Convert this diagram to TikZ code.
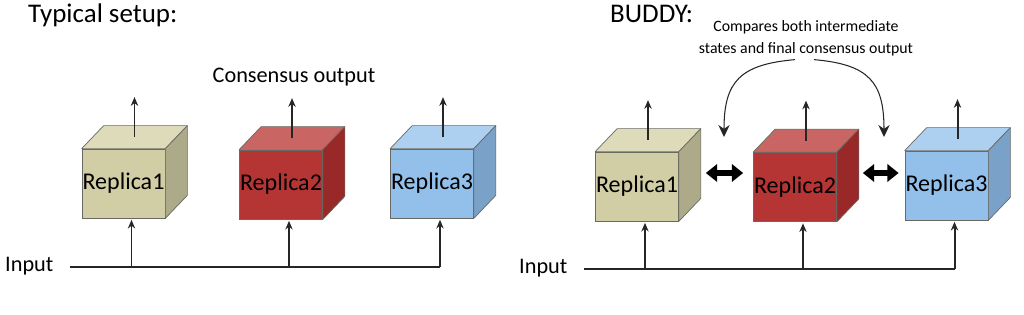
\documentclass[tikz,border=0pt]{standalone}
\usepackage{fontspec}
\setmainfont{Carlito}
\usetikzlibrary{calc, arrows.meta}
\definecolor{edgegray} {RGB}{105,105,100}
\definecolor{tanfront} {RGB}{209,205,165}
\definecolor{tantop}   {RGB}{222,219,187}
\definecolor{tanside}  {RGB}{172,170,136}
\definecolor{redfront} {RGB}{181,53,52}
\definecolor{redtop}   {RGB}{201,102,100}
\definecolor{redside}  {RGB}{152,41,40}
\definecolor{bluefront}{RGB}{147,192,235}
\definecolor{bluetop}  {RGB}{173,208,240}
\definecolor{blueside} {RGB}{122,162,201}
\newcommand\bigfont{\fontsize{19}{23}\selectfont}
% one replica: front face as node, top and side faces hung on its corners
\newcommand\replica[4]{%
  \node[replicabox, fill=#3front] (#1) at (#2) {#4};
  \path[cubeedge, fill=#3top] (#1.north west) -- ++(22,23)
    -- ($(#1.north east)+(22,23)$) -- (#1.north east) -- cycle;
  \path[cubeedge, fill=#3side] (#1.north east) -- ++(22,23)
    -- ($(#1.south east)+(22,23)$) -- (#1.south east) -- cycle;
  \coordinate (#1-top) at ($(#1.north)+(11,11.5)$);
  \coordinate (#1-out) at ($(#1-top)+(0,40)$);
  \coordinate (#1-in) at ($(#1.south)+(8,-1.5)$);}
\tikzset{
  replicabox/.style={draw=edgegray, line width=0.6pt, minimum width=24.9mm,
    minimum height=20.7mm, inner sep=0pt, font=\fontsize{20.5}{24}\selectfont},
  cubeedge/.style={draw=edgegray, line width=0.6pt, line join=round},
  wire/.style={line width=1.7pt, draw=black!85},
  feed/.style={wire, -{Stealth[length=2.6mm, width=2.2mm]}},
  exchange/.style={line width=1.8mm,
    {Triangle[length=3.4mm, width=5.2mm]}-{Triangle[length=3.4mm, width=5.2mm]}},
  compare/.style={line width=0.9pt, draw=black!85, looseness=1.35,
    -{Stealth[length=3.6mm, width=3.4mm]}},
  paneltitle/.style={font=\fontsize{23}{27}\selectfont, anchor=base west, inner sep=0pt},
  lbl/.style={font=\bigfont, inner sep=0pt},
}
\begin{document}
\begin{tikzpicture}[x=0.3mm, y=0.3mm]
\fill[white] (0,0) rectangle (1024,315);
\useasboundingbox (0,0) rectangle (1024,315);
% typical setup
\node[paneltitle] (typtitle) at (28,292) {Typical setup:};
\replica{typ1}{123.5,131.5}{tan}{Replica1}
\replica{typ2}{281,130.5}{red}{Replica2}
\replica{typ3}{432,131.5}{blue}{Replica3}
\node[lbl, anchor=base] (consensus) at (294,232) {Consensus output};
\node[lbl, anchor=base west] (typinput) at (5,43) {Input};
\coordinate (typbus) at (70,48);
\draw[wire] (typbus) -- (typbus -| typ3-in);
\foreach \n in {typ1,typ2,typ3} {
  \draw[feed] (typbus -| \n-in) -- (\n-in);
  \draw[feed] (\n-top) -- (\n-out);
}
% buddy setup
\node[paneltitle] (budtitle) at (610,292) {BUDDY:};
\replica{bud1}{637,128.5}{tan}{Replica1}
\replica{bud2}{795,128}{red}{Replica2}
\replica{bud3}{946.5,129.5}{blue}{Replica3}
\node[align=center, inner sep=0pt, font=\fontsize{13.5}{19}\selectfont] (note)
  at (806,276.5) {Compares both intermediate\\states and final consensus output};
\node[lbl, anchor=base west] (budinput) at (519,41) {Input};
\coordinate (budbus) at (584,46);
\draw[wire] (budbus) -- (budbus -| bud3-in);
\foreach \n in {bud1,bud2,bud3} {
  \draw[feed] (budbus -| \n-in) -- (\n-in);
  \draw[feed] (\n-top) -- (\n-out);
}
\draw[exchange] ($(bud1.east)+(27,13.5)$) -- ($(bud2.west)+(-10,14)$);
\draw[exchange] ($(bud2.east)+(26,14)$) -- ($(bud3.west)+(-6,12.5)$);
\coordinate (gapL) at (724,178);
\coordinate (gapR) at (884,178);
\draw[compare] ($(note.south)+(-11,-3)$) to[out=185, in=90] (gapL);
\draw[compare] ($(note.south)+(8,-3)$) to[out=-5, in=90] (gapR);
\end{tikzpicture}
\end{document}
